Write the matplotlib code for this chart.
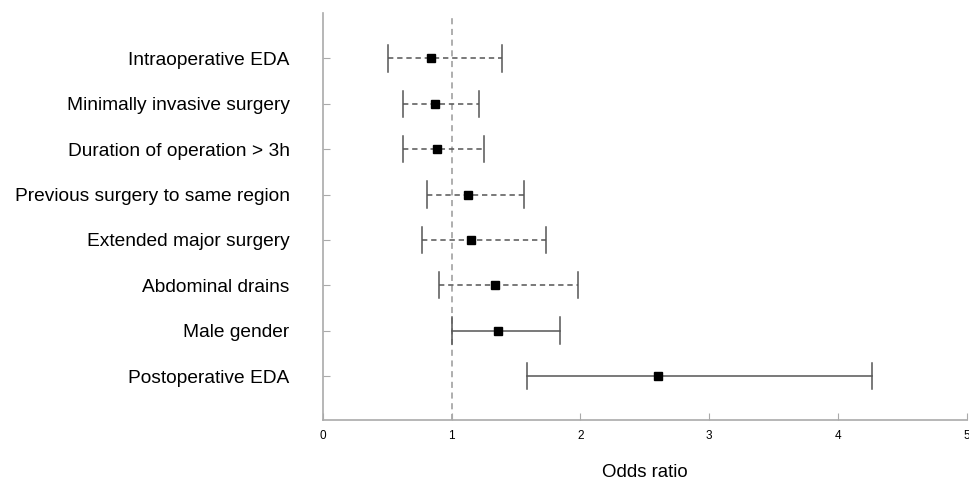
import matplotlib
matplotlib.use("Agg")
import matplotlib.pyplot as plt

plt.rcParams['font.family'] = ['Liberation Sans', 'DejaVu Sans']

labels = ["Intraoperative EDA", "Minimally invasive surgery", "Duration of operation > 3h",
          "Previous surgery to same region", "Extended major surgery", "Abdominal drains",
          "Male gender", "Postoperative EDA"]
odds = [0.84, 0.87, 0.886, 1.125, 1.15, 1.335, 1.36, 2.606]
ci_low = [0.508, 0.624, 0.622, 0.81, 0.77, 0.90, 1.0, 1.584]
ci_high = [1.39, 1.215, 1.254, 1.558, 1.734, 1.98, 1.84, 4.265]
significant = [False, False, False, False, False, False, True, True]
xticks = [0, 1, 2, 3, 4, 5]

fig = plt.figure(figsize=(9.7, 4.83), dpi=100)
ax = fig.add_axes([0.333, 0.1304, 0.6634, 0.8426])

n = len(labels)
ypos = list(range(n, 0, -1))
line_col = '#555555'
for y, o, lo, hi, sig in zip(ypos, odds, ci_low, ci_high, significant):
    ls = '-' if sig else (0, (3.5, 2.5))
    ax.plot([lo, hi], [y, y], color=line_col, lw=1.1, linestyle=ls, zorder=2)
    for xc in (lo, hi):
        ax.plot([xc, xc], [y - 0.29, y + 0.29], color=line_col, lw=1.1, zorder=2)
    ax.plot([o], [y], marker='s', color='black', markersize=5.5, linestyle='none', zorder=3)

ax.axvline(1, ymin=0, ymax=0.99, color='#999999', lw=1.1, linestyle=(0, (4, 3)), zorder=1)

ax.set_xlim(0, 5)
ax.set_ylim(0.03, 9.0)
ax.set_xticks(xticks)
ax.set_xticklabels([str(t) for t in xticks], fontsize=8.5)
ax.set_yticks(ypos)
ax.set_yticklabels(labels, fontsize=13.8)
ax.tick_params(axis='y', direction='in', length=5, color='#aaaaaa', pad=24)
ax.tick_params(axis='x', direction='in', length=5, color='#aaaaaa', pad=7)
for s in ('top', 'right'):
    ax.spines[s].set_visible(False)
for s in ('left', 'bottom'):
    ax.spines[s].set_color('#aaaaaa')
    ax.spines[s].set_linewidth(1.2)

ax.set_xlabel("Odds ratio", fontsize=13.4, labelpad=16)

fig.savefig("out.png", dpi=100)
